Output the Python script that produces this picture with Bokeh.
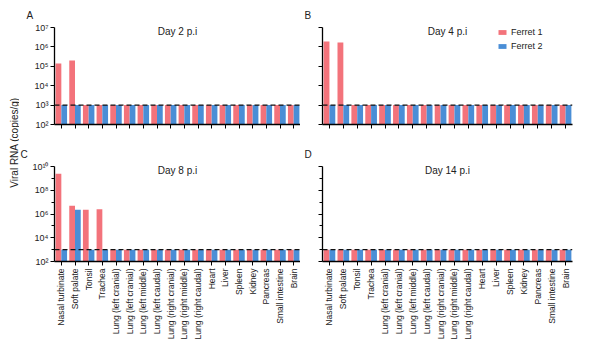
import math
import numpy as np
from bokeh.plotting import figure
from bokeh.models import Range1d, FixedTicker, Span, Label, ColumnDataSource, Title
from bokeh.layouts import row, column
from bokeh.embed import file_html
from bokeh.resources import INLINE

tissues = ["Nasal turbinate", "Soft palate", "Tonsil", "Trachea",
           "Lung (left cranial)", "Lung (left cranial)", "Lung (left middle)",
           "Lung (left caudal)", "Lung (right cranial)", "Lung (right middle)",
           "Lung (right caudal)", "Heart", "Liver", "Spleen", "Kidney",
           "Pancreas", "Small intestine", "Brain"]

day2_ferret1 = [1.4e5, 2.0e5, 1e3, 1e3, 1e3, 1e3, 1e3, 1e3, 1e3, 1e3, 1e3, 1e3, 1e3, 1e3, 1e3, 1e3, 1e3, 1e3]
day2_ferret2 = [1e3, 1e3, 1e3, 1e3, 1e3, 1e3, 1e3, 1e3, 1e3, 1e3, 1e3, 1e3, 1e3, 1e3, 1e3, 1e3, 1e3, 1e3]
day4_ferret1 = [1.9e6, 1.7e6, 1e3, 1e3, 1e3, 1e3, 1e3, 1e3, 1e3, 1e3, 1e3, 1e3, 1e3, 1e3, 1e3, 1e3, 1e3, 1e3]
day4_ferret2 = [1e3, 1e3, 1e3, 1e3, 1e3, 1e3, 1e3, 1e3, 1e3, 1e3, 1e3, 1e3, 1e3, 1e3, 1e3, 1e3, 1e3, 1e3]
day8_ferret1 = [2.5e9, 5.0e6, 2.3e6, 2.5e6, 1e3, 1e3, 1e3, 1e3, 1e3, 1e3, 1e3, 1e3, 1e3, 1e3, 1e3, 1e3, 1e3, 1e3]
day8_ferret2 = [1e3, 2.3e6, 1e3, 1e3, 1e3, 1e3, 1e3, 1e3, 1e3, 1e3, 1e3, 1e3, 1e3, 1e3, 1e3, 1e3, 1e3, 1e3]
day14_ferret1 = [1e3, 1e3, 1e3, 1e3, 1e3, 1e3, 1e3, 1e3, 1e3, 1e3, 1e3, 1e3, 1e3, 1e3, 1e3, 1e3, 1e3, 1e3]
day14_ferret2 = [1e3, 1e3, 1e3, 1e3, 1e3, 1e3, 1e3, 1e3, 1e3, 1e3, 1e3, 1e3, 1e3, 1e3, 1e3, 1e3, 1e3, 1e3]

detection_limit = 1e3
series_names = ["Ferret 1", "Ferret 2"]

RED = "#F3737B"
BLUE = "#4A8ED6"
FONT = "Liberation Sans"
TXT = "#222222"
SUP = str.maketrans("0123456789", "⁰¹²³⁴⁵⁶⁷⁸⁹")


def sup_label(e):
    return "10" + str(e).translate(SUP)


def make_panel(title, letter, f1, f2, ymax_exp, label_step, show_ylabels, show_xlabels,
               legend, fw, fh, left, right, top, bottom, title_shift, letter_offset):
    p = figure(frame_width=fw, frame_height=fh, y_axis_type="log",
               x_range=Range1d(-0.5, 17.5), y_range=Range1d(100, 10 ** ymax_exp),
               output_backend="svg", toolbar_location=None,
               min_border_left=left, min_border_right=right,
               min_border_top=top, min_border_bottom=bottom)
    p.outline_line_color = None
    p.xgrid.visible = False
    p.ygrid.visible = False
    p.background_fill_color = "white"
    p.border_fill_color = "white"

    idx = np.arange(len(tissues))
    src = ColumnDataSource(dict(x1=idx - 0.21, x2=idx + 0.21, f1=f1, f2=f2,
                                b=[100] * len(tissues)))
    kw1 = dict(legend_label=series_names[0]) if legend else {}
    kw2 = dict(legend_label=series_names[1]) if legend else {}
    p.vbar(x="x1", top="f1", bottom="b", width=0.42, source=src,
           fill_color=RED, line_color=None, **kw1)
    p.vbar(x="x2", top="f2", bottom="b", width=0.42, source=src,
           fill_color=BLUE, line_color=None, **kw2)

    p.add_layout(Span(location=detection_limit, dimension="width",
                      line_color="#111111", line_dash="5 3", line_width=1.3))

    # y axis
    exps = list(range(2, ymax_exp + 1))
    major = [10.0 ** e for e in exps if (e - 2) % label_step == 0]
    minor = [10.0 ** e for e in exps if (e - 2) % label_step != 0]
    yax = p.yaxis[0]
    yax.ticker = FixedTicker(ticks=major, minor_ticks=minor)
    if show_ylabels:
        yax.major_label_overrides = {10.0 ** e: sup_label(e) for e in exps}
    else:
        yax.major_label_overrides = {10.0 ** e: "" for e in exps}
    yax.major_label_text_font = FONT
    yax.major_label_text_font_size = "9px"
    yax.major_label_text_color = TXT
    yax.major_tick_out = 4
    yax.major_tick_in = 0
    yax.minor_tick_out = 3
    yax.minor_tick_in = 0
    yax.major_label_standoff = 2
    yax.axis_line_color = "black"
    yax.axis_line_width = 1.3

    # x axis
    xax = p.xaxis[0]
    xax.ticker = FixedTicker(ticks=list(range(len(tissues))), minor_ticks=[])
    if show_xlabels:
        xax.major_label_overrides = {i: t for i, t in enumerate(tissues)}
    else:
        xax.major_label_overrides = {i: "" for i in range(len(tissues))}
    xax.major_label_orientation = math.pi / 2
    xax.major_label_text_font = FONT
    xax.major_label_text_font_size = "8.5px"
    xax.major_label_text_color = TXT
    xax.major_tick_out = 4
    xax.major_tick_in = 0
    xax.minor_tick_out = 0
    xax.major_label_standoff = 3
    xax.axis_line_color = "black"
    xax.axis_line_width = 1.3

    # panel letter (outermost title) and day title (nearest to the frame)
    p.title = Title(text=letter, align="left", offset=letter_offset, standoff=14,
                    text_font=FONT, text_font_size="10px", text_font_style="normal",
                    text_color=TXT)
    p.add_layout(Title(text=title, align="center", offset=title_shift, standoff=-18,
                       vertical_align="bottom",
                       text_font=FONT, text_font_size="10px", text_font_style="normal",
                       text_color=TXT), "above")

    if legend:
        lg = p.legend[0]
        lg.location = (175, 72)
        lg.padding = 0
        lg.margin = 0
        lg.spacing = 2
        lg.label_height = 12
        lg.glyph_height = 6
        lg.glyph_width = 10
        lg.label_standoff = 4
        lg.label_text_font = FONT
        lg.label_text_font_size = "9px"
        lg.label_text_color = TXT
        lg.background_fill_alpha = 0
        lg.border_line_color = None
    return p


pA = make_panel("Day 2 p.i", "A", day2_ferret1, day2_ferret2, 7, 1, True, False, False,
                246, 97, 35, 0, 26, 10, 0, -28)
pB = make_panel("Day 4 p.i", "B", day4_ferret1, day4_ferret2, 7, 1, False, False, True,
                250, 97, 22, 20, 26, 10, 0, -18)
pC = make_panel("Day 8 p.i", "C", day8_ferret1, day8_ferret2, 10, 2, True, True, False,
                246, 95, 35, 0, 32, 10, 0, -34)
pD = make_panel("Day 14 p.i", "D", day14_ferret1, day14_ferret2, 10, 2, False, True, False,
                250, 95, 22, 20, 32, 10, 0, -18)

ylab = figure(width=19, height=350, x_range=Range1d(0, 19), y_range=Range1d(0, 350),
              output_backend="svg", toolbar_location=None, min_border=0,
              x_axis_location=None, y_axis_location=None)
ylab.outline_line_color = None
ylab.xgrid.visible = False
ylab.ygrid.visible = False
ylab.add_layout(Label(x=14, y=350 - 142, text="Viral RNA (copies/g)",
                      angle=math.pi / 2, text_align="center", text_baseline="middle",
                      text_font=FONT, text_font_size="10px", text_color=TXT))

layout = row(ylab, column(row(pA, pB), row(pC, pD)))

with open("out.html", "w") as f:
    f.write(file_html(layout, INLINE))
